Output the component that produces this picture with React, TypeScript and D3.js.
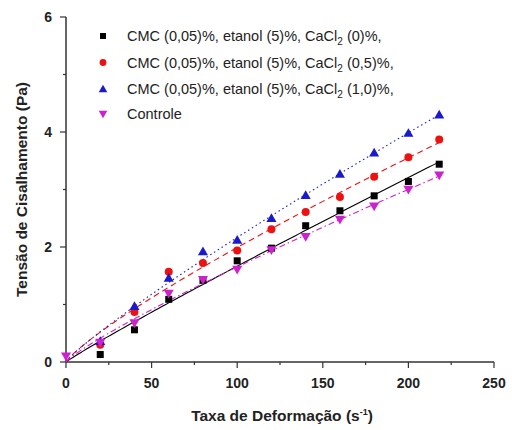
import React, { useEffect, useRef } from "react";
import * as d3 from "d3";

// shear rate (s^-1)
const shearRate = [20, 40, 60, 80, 100, 120, 140, 160, 180, 200, 218];
const shearRateControl = [0, 20, 40, 60, 80, 100, 120, 140, 160, 180, 200, 218];

// shear stress (Pa)
const cacl0 = [0.13, 0.56, 1.09, 1.42, 1.76, 1.98, 2.37, 2.63, 2.89, 3.14, 3.44];
const cacl05 = [0.3, 0.87, 1.57, 1.72, 1.94, 2.31, 2.61, 2.87, 3.22, 3.56, 3.87];
const cacl10 = [0.36, 0.97, 1.46, 1.92, 2.12, 2.5, 2.9, 3.27, 3.64, 3.98, 4.3];
const controle = [0.1, 0.34, 0.68, 1.19, 1.43, 1.61, 1.95, 2.18, 2.48, 2.71, 3.0, 3.25];

const xTicks = [0, 50, 100, 150, 200, 250];
const yTicks = [0, 2, 4, 6];

const series = [
  { name: "(0)%,", xs: shearRate, ys: cacl0, color: "#000000", marker: "square", dash: "" },
  { name: "(0,5)%,", xs: shearRate, ys: cacl05, color: "#ee1111", marker: "circle", dash: "6,4" },
  { name: "(1,0)%,", xs: shearRate, ys: cacl10, color: "#1a1acc", marker: "triangle", dash: "1.5,3" },
  { name: "Controle", xs: shearRateControl, ys: controle, color: "#cc22cc", marker: "down", dash: "6,3,1.5,3" },
];

// power law fit (tau = K * gamma^n), least squares on the raw values
function powerFit(xs: number[], ys: number[]) {
  let best = { K: 0, n: 1, sse: Infinity };
  for (let n = 0.5; n <= 1.5; n += 0.005) {
    const K = d3.sum(xs, (x, i) => ys[i] * Math.pow(x, n)) / d3.sum(xs, (x) => Math.pow(x, 2 * n));
    const sse = d3.sum(xs, (x, i) => (ys[i] - K * Math.pow(x, n)) ** 2);
    if (sse < best.sse) best = { K, n, sse };
  }
  return (g: number) => best.K * Math.pow(g, best.n);
}

const App = () => {
  const svgRef = useRef<SVGSVGElement>(null);

  useEffect(() => {
    const svg = d3.select(svgRef.current);
    svg.selectAll("*").remove();

    const left = 66;
    const right = 494;
    const top = 17;
    const bottom = 362;

    const x = d3.scaleLinear().domain([0, 250]).range([left, right]);
    const y = d3.scaleLinear().domain([0, 6]).range([bottom, top]);

    const font = "'Liberation Sans', Arial, sans-serif";
    const axisColor = "#333";

    // axes
    svg.append("line").attr("x1", left).attr("x2", right).attr("y1", bottom).attr("y2", bottom)
      .attr("stroke", axisColor).attr("stroke-width", 1.5);
    svg.append("line").attr("x1", left).attr("x2", left).attr("y1", bottom).attr("y2", top)
      .attr("stroke", axisColor).attr("stroke-width", 1.5);

    d3.range(0, 251, 25).forEach((v) => {
      const major = v % 50 === 0;
      svg.append("line").attr("x1", x(v)).attr("x2", x(v))
        .attr("y1", bottom).attr("y2", bottom + (major ? 6 : 3))
        .attr("stroke", axisColor).attr("stroke-width", 1.2);
    });
    d3.range(0, 7, 1).forEach((v) => {
      const major = v % 2 === 0;
      svg.append("line").attr("x1", left).attr("x2", left - (major ? 6 : 3))
        .attr("y1", y(v)).attr("y2", y(v))
        .attr("stroke", axisColor).attr("stroke-width", 1.2);
    });

    xTicks.forEach((v) => {
      svg.append("text").attr("x", x(v)).attr("y", bottom + 26)
        .attr("text-anchor", "middle").style("font-family", font)
        .style("font-size", "14px").style("font-weight", "bold").style("fill", "#222")
        .text(v);
    });
    yTicks.forEach((v) => {
      svg.append("text").attr("x", left - 14).attr("y", y(v) + 5)
        .attr("text-anchor", "end").style("font-family", font)
        .style("font-size", "14px").style("font-weight", "bold").style("fill", "#222")
        .text(v);
    });

    // axis titles
    const xt = svg.append("text").attr("x", 282).attr("y", 421)
      .attr("text-anchor", "middle").style("font-family", font)
      .style("font-size", "15.5px").style("font-weight", "bold").style("fill", "#222");
    xt.append("tspan").text("Taxa de Deformação (s");
    xt.append("tspan").attr("dy", -6).style("font-size", "9px").text("-1");
    xt.append("tspan").attr("dy", 6).text(")");

    svg.append("text")
      .attr("transform", `translate(27, ${(top + bottom) / 2}) rotate(-90)`)
      .attr("text-anchor", "middle").style("font-family", font)
      .style("font-size", "15.5px").style("font-weight", "bold").style("fill", "#222")
      .text("Tensão de Cisalhamento (Pa)");

    const drawMarker = (g: any, type: string, cx: number, cy: number, color: string, k = 1) => {
      if (type === "square") {
        g.append("rect").attr("x", cx - 3.5 * k).attr("y", cy - 3.5 * k)
          .attr("width", 7 * k).attr("height", 7 * k).attr("fill", color);
      } else if (type === "circle") {
        g.append("circle").attr("cx", cx).attr("cy", cy).attr("r", 4 * k).attr("fill", color);
      } else {
        const sym = d3.symbol().type(d3.symbolTriangle).size(44 * k * k);
        g.append("path").attr("d", sym()!)
          .attr("transform", `translate(${cx},${cy + (type === "down" ? -0.8 : 0.8)}) rotate(${type === "down" ? 180 : 0})`)
          .attr("fill", color);
      }
    };

    // fit curves
    const grid = d3.range(0, 219, 2);
    series.forEach((s) => {
      const f = powerFit(s.xs, s.ys);
      const line = d3.line<number>().x((g) => x(g)).y((g) => y(f(g)));
      svg.append("path")
        .attr("d", line(grid)!)
        .attr("fill", "none")
        .attr("stroke", s.color).attr("stroke-width", 1.1)
        .attr("stroke-dasharray", s.dash);
    });

    // points
    series.forEach((s) => {
      const g = svg.append("g");
      s.xs.forEach((xv, i) => drawMarker(g, s.marker, x(xv), y(s.ys[i]), s.color));
    });

    // legend
    const legX = 103;
    const legY = [36, 62.5, 89, 114];
    series.forEach((s, i) => {
      const g = svg.append("g");
      drawMarker(g, s.marker, legX, legY[i], s.color, 0.85);
      const t = svg.append("text").attr("x", 127).attr("y", legY[i] + 5)
        .style("font-family", font).style("font-size", "14.5px").style("fill", "#222");
      if (s.name === "Controle") {
        t.text("Controle");
      } else {
        t.append("tspan").text("CMC (0,05)%, etanol (5)%, CaCl");
        t.append("tspan").attr("dy", 4).style("font-size", "10px").text("2");
        t.append("tspan").attr("dy", -4).text(" " + s.name);
      }
    });
  }, []);

  return <svg ref={svgRef} width={512} height={430} style={{ position: "absolute", left: 0, top: 0 }}></svg>;
};

export default App;
